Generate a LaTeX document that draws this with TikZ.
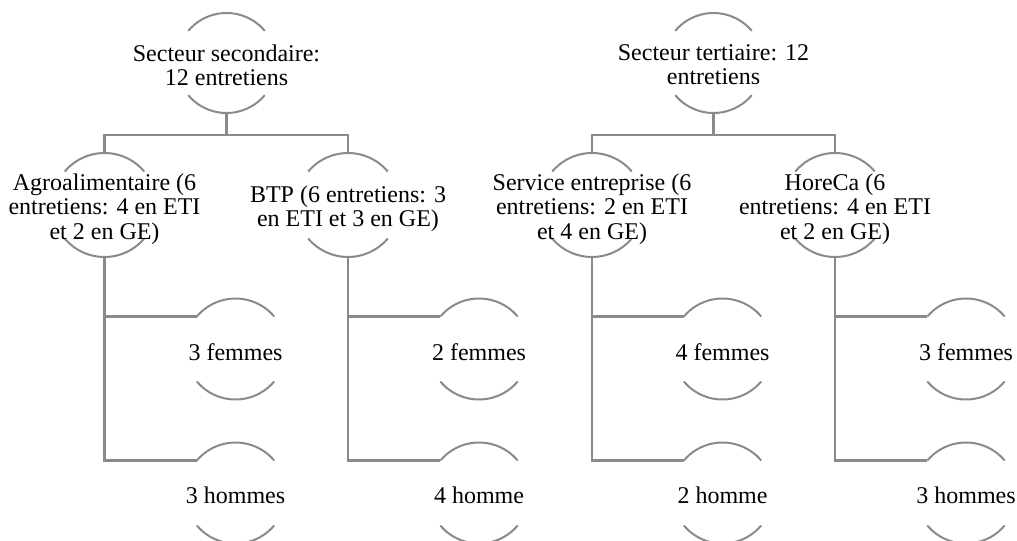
\documentclass[tikz,border=0pt]{standalone}
\usepackage{fontspec}
\setmainfont{Liberation Serif}
\definecolor{ln}{RGB}{138,138,138}
\tikzset{
  lvla/.style={circle,draw=none,inner sep=0pt,outer sep=0pt,minimum size=75pt},
  lvlb/.style={circle,draw=none,inner sep=0pt,outer sep=0pt,minimum size=78pt},
  lvlc/.style={circle,draw=none,inner sep=0pt,outer sep=0pt,minimum size=75.75pt},
  lbl/.style={align=center,font=\fontsize{18pt}{18.2pt}\selectfont,inner sep=0pt,text=black},
  arcline/.style={draw=ln,line width=1.5pt},
  conn/.style={draw=ln,line width=1.8pt},
}
\begin{document}
\begin{tikzpicture}[x=0.75pt,y=0.75pt]
\useasboundingbox (0,-540) rectangle (1017,0);
\clip (0,-540) rectangle (1017,0);
% shapes
\node[lvla] (a1) at (226.5,-63) {};
\node[lvla] (a2) at (713.5,-63) {};
\node[lvlb] (b1) at (104.5,-205) {};
\node[lvlb] (b2) at (348,-205) {};
\node[lvlb] (b3) at (592,-205) {};
\node[lvlb] (b4) at (835,-205) {};
\node[lvlc] (c1) at (235.5,-349) {};
\node[lvlc] (c2) at (235.5,-493) {};
\node[lvlc] (c3) at (479,-349) {};
\node[lvlc] (c4) at (479,-493) {};
\node[lvlc] (c5) at (722.5,-349) {};
\node[lvlc] (c6) at (722.5,-493) {};
\node[lvlc] (c7) at (966,-349) {};
\node[lvlc] (c8) at (966,-493) {};
% arcs
\foreach \n/\r in {a1/50,a2/50,b1/52,b2/52,b3/52,b4/52,c1/50.5,c2/50.5,c3/50.5,c4/50.5,c5/50.5,c6/50.5,c7/50.5,c8/50.5}{
  \draw[arcline] (\n.40) arc[start angle=40,end angle=140,radius=\r];
  \draw[arcline] (\n.220) arc[start angle=220,end angle=320,radius=\r];
}
% labels
\node[lbl,yshift=-1.5pt] (a1t) at (a1) {Secteur secondaire:\\12 entretiens};
\node[lbl,yshift=-1.5pt] (a2t) at (a2) {Secteur tertiaire: 12\\entretiens};
\node[lbl,yshift=-3pt] (b1t) at (b1) {Agroalimentaire (6\\entretiens: 4 en ETI\\et 2 en GE)};
\node[lbl,yshift=-3pt] (b2t) at (b2) {BTP (6 entretiens: 3\\en ETI et 3 en GE)};
\node[lbl,yshift=-3pt] (b3t) at (b3) {Service entreprise (6\\entretiens: 2 en ETI\\et 4 en GE)};
\node[lbl,yshift=-3pt] (b4t) at (b4) {HoreCa (6\\entretiens: 4 en ETI\\et 2 en GE)};
\node[lbl,yshift=-2pt] (c1t) at (c1) {3 femmes};
\node[lbl,yshift=-2pt] (c2t) at (c2) {3 hommes};
\node[lbl,yshift=-2pt] (c3t) at (c3) {2 femmes};
\node[lbl,yshift=-2pt] (c4t) at (c4) {4 homme};
\node[lbl,yshift=-2pt] (c5t) at (c5) {4 femmes};
\node[lbl,yshift=-2pt] (c6t) at (c6) {2 homme};
\node[lbl,yshift=-2pt] (c7t) at (c7) {3 femmes};
\node[lbl,yshift=-2pt] (c8t) at (c8) {3 hommes};
% connectors
\draw[conn] (a1.south) -- ++(0,-22) -| (b1.north);
\draw[conn] (a1.south) -- ++(0,-22) -| (b2.north);
\draw[conn] (a2.south) -- ++(0,-22) -| (b3.north);
\draw[conn] (a2.south) -- ++(0,-22) -| (b4.north);
\draw[conn] (b1.south) |- (c1.140);
\draw[conn] (b1.south) |- (c2.140);
\draw[conn] (b2.south) |- (c3.140);
\draw[conn] (b2.south) |- (c4.140);
\draw[conn] (b3.south) |- (c5.140);
\draw[conn] (b3.south) |- (c6.140);
\draw[conn] (b4.south) |- (c7.140);
\draw[conn] (b4.south) |- (c8.140);
\end{tikzpicture}
\end{document}
